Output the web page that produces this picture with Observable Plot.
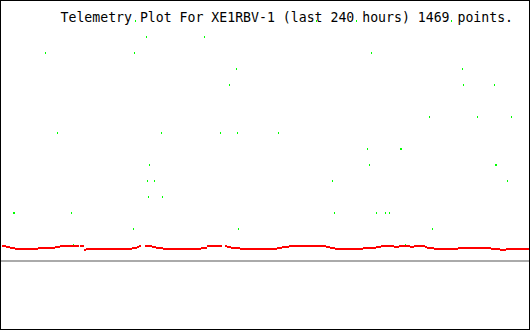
<!DOCTYPE html>
<html>
<head>
<meta charset="utf-8">
<script src="https://cdn.jsdelivr.net/npm/d3@7"></script>
<script src="https://cdn.jsdelivr.net/npm/@observablehq/plot@0.6"></script>
<style>
  html, body { margin: 0; padding: 0; background: #fff; }
  svg { display: block; }
</style>
</head>
<body>
<div id="chart"></div>
<script>
// Title
const titleText = ["Telemetry Plot For XE1RBV-1 (last 240 hours) 1469 points."];

// Green channel samples: hour of sample (0..240) and raw value (0..255)
const greenHours = [
  60.5, 143.0, 161.1, 204.3,
  65.7, 92.0,
  19.8, 60.2, 168.0,
  106.6, 209.3,
  103.4, 209.8, 223.9,
  194.3, 216.1, 231.6,
  25.2, 72.5, 99.3, 107.0, 125.7,
  166.1, 181.1, 181.6,
  67.0, 167.0, 224.3, 224.8,
  66.1, 69.3, 150.2, 229.8,
  66.6, 73.0,
  5.2, 5.7, 31.6, 151.1, 170.2, 174.3, 176.1,
  59.8, 107.5, 195.7,
  32.5, 183.4
];
const greenValues = [
  240, 240, 240, 240,
  224, 224,
  208, 208, 208,
  192, 192,
  176, 176, 176,
  144, 144, 144,
  128, 128, 128, 128, 128,
  112, 112, 112,
  96, 96, 96, 96,
  80, 80, 80, 80,
  64, 64,
  48, 48, 48, 48, 48, 48, 48,
  32, 32, 32,
  16, 16
];

// Red channel: runs of constant value (start hour, end hour, value)
const redStart = [0, 2.27, 3.64, 6.36, 16.8, 24.1, 26.4, 35.9, 37.7, 38.6, 59.5, 61.4, 62.3,
  65.0, 68.6, 70.0, 73.6, 90.5, 93.6, 101.4, 102.3, 104.5, 108.2, 125.0, 127.7, 130.9,
  147.3, 149.5, 151.8, 164.1, 170.0, 172.3, 178.6, 180.9, 185.5, 187.7, 192.3, 193.6,
  196.4, 207.7, 222.7, 226.8, 229.1];
const redEnd = [2.27, 3.64, 6.36, 16.8, 24.1, 26.4, 35.0, 37.7, 38.6, 59.5, 61.4, 62.3, 63.6,
  68.6, 70.0, 73.6, 90.5, 93.6, 100.0, 102.3, 104.5, 108.2, 125.0, 127.7, 130.9, 147.3,
  149.5, 151.8, 164.1, 170.0, 172.3, 178.6, 180.9, 185.5, 187.7, 192.3, 193.6, 196.4,
  207.7, 222.7, 226.8, 229.1, 240];
const redValues = [15, 14, 13, 12, 13, 14, 15, 15, 11, 12, 13, 14, 15,
  15, 14, 13, 12, 13, 15, 15, 14, 13, 12, 13, 14, 15,
  14, 13, 12, 13, 14, 15, 14, 15, 14, 15, 14, 13,
  12, 13, 12, 11, 12];

const green = greenHours.map((h, i) => ({h, v: greenValues[i]}));
const red = redStart.map((s, i) => ({s, e: redEnd[i], v: redValues[i]}));

const chart = Plot.plot({
  width: 530,
  height: 330,
  margin: 0,
  style: {background: "white"},
  x: {domain: [0, 240], range: [1.5, 529.5], axis: null},
  y: {domain: [0, 240], range: [260.5, 20.5], axis: null},
  marks: [
    Plot.ruleX(green, {x: "h", y1: d => d.v - 1, y2: d => d.v + 1, stroke: "#00ff00", strokeWidth: 1, shapeRendering: "crispEdges"}),
    Plot.ruleY(red, {y: "v", x1: "s", x2: "e", stroke: "#ff0000", strokeWidth: 2, shapeRendering: "crispEdges"}),
    Plot.ruleY([0], {stroke: "#aaaaaa", strokeWidth: 2, shapeRendering: "crispEdges"}),
    Plot.text(titleText, {text: d => d, frameAnchor: "top-left", dx: 60, dy: 12.5, lineAnchor: "top", textAnchor: "start",
      fontFamily: "DejaVu Sans Mono", fontSize: 13.2, fill: "black"}),
    Plot.frame({stroke: "black", insetRight: 1, insetBottom: 1, shapeRendering: "crispEdges"})
  ]
});
document.getElementById("chart").appendChild(chart);
</script>
</body>
</html>
